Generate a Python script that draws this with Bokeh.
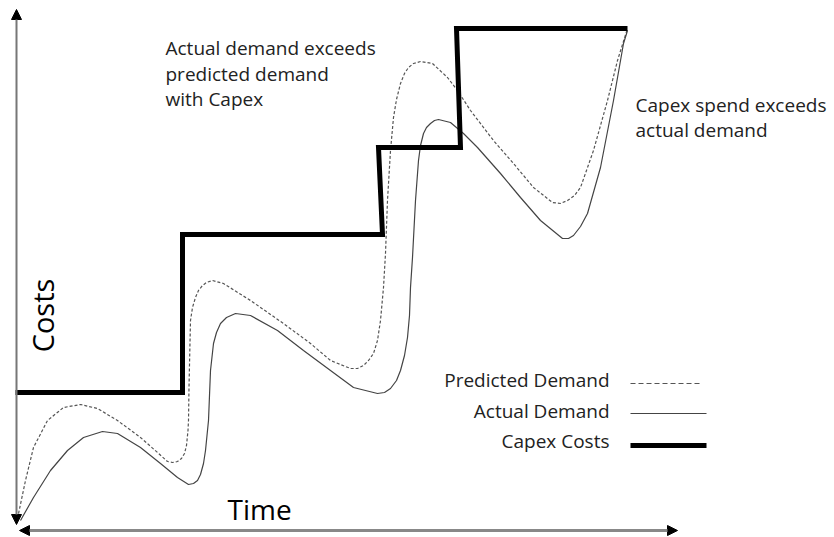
import math
from bokeh.plotting import figure
from bokeh.models import Range1d, Arrow, NormalHead
from bokeh.core.properties import value
from bokeh.embed import file_html
from bokeh.resources import INLINE

# ---- data (time units, cost units) ----
pred_time = [0, 8, 16, 30, 46, 63, 80, 100, 123, 140, 150, 155, 160, 164, 167, 169, 170.5, 171, 171.5, 173,
             175, 178, 181, 185, 189, 195, 206, 233, 266, 293, 313, 333, 340, 346, 351, 356, 360, 363, 366,
             368, 370, 373, 376, 379, 383, 387, 391, 396, 403, 415, 430, 440, 453, 476, 496, 516, 535, 543,
             550, 557, 563, 576, 590, 600, 610]
pred_cost = [2, 40, 73, 100, 113, 116, 112, 100, 83, 68, 59, 58, 59, 62, 67, 75, 90, 100, 133, 200,
             213, 223, 230, 235, 238, 240, 237, 220, 197, 177, 160, 152, 152, 155, 160, 167, 180, 200, 233,
             267, 320, 370, 403, 421, 437, 447, 453, 457, 459, 457, 443, 430, 410, 380, 357, 333, 318, 317,
             320, 325, 333, 370, 420, 460, 492]

act_time = [3, 16, 33, 50, 66, 85, 100, 123, 143, 160, 171, 176, 180, 183, 186, 188, 190, 191, 193, 196,
            199, 203, 209, 218, 233, 260, 286, 313, 336, 360, 367, 373, 379, 383, 387, 390, 392, 393, 395,
            398, 401, 403, 406, 409, 413, 417, 421, 433, 446, 460, 483, 503, 523, 545, 551, 556, 563, 570,
            583, 596, 606, 610]
act_cost = [0, 23, 50, 70, 83, 89, 87, 73, 57, 43, 36, 37, 40, 46, 57, 70, 90, 100, 150, 177,
            188, 197, 203, 207, 205, 190, 170, 150, 133, 127, 128, 132, 140, 150, 165, 183, 205, 233, 263,
            320, 360, 375, 387, 393, 397, 400, 401, 398, 387, 373, 347, 323, 300, 282, 282, 285, 294, 307,
            353, 420, 477, 490]

capex_time = [-2, 165, 165, 365, 361, 443, 439, 610]
capex_cost = [128, 128, 286, 286, 373, 373, 492, 492]

legend_labels = ["Predicted Demand", "Actual Demand", "Capex Costs"]

TXT = "#222222"
FONT = "Open Sans"

p = figure(width=834, height=537, output_backend="svg", toolbar_location=None,
           x_range=Range1d(-17, 817), y_range=Range1d(-17, 520), min_border=0)
p.axis.visible = False
p.grid.visible = False
p.outline_line_color = None
p.background_fill_color = "white"
p.border_fill_color = "white"

# axes arrows
p.add_layout(Arrow(x_start=-1, y_start=-4, x_end=-1, y_end=511,
                   line_color="#777777", line_width=2,
                   start=NormalHead(size=10, fill_color="black", line_color="black"),
                   end=NormalHead(size=10, fill_color="black", line_color="black")))
p.add_layout(Arrow(x_start=2, y_start=-10, x_end=660, y_end=-10,
                   line_color="#888888", line_width=3,
                   start=NormalHead(size=10, fill_color="black", line_color="black"),
                   end=NormalHead(size=10, fill_color="black", line_color="black")))

# curves
p.line(pred_time, pred_cost, line_color="#555555", line_width=1.2, line_dash="3 2")
p.line(act_time, act_cost, line_color="#444444", line_width=1.2)
p.line(capex_time, capex_cost, line_color="black", line_width=5, line_join="miter")

# annotations
p.text(x=[148, 148, 148], y=[473, 447, 422],
       text=["Actual demand exceeds", "predicted demand", "with Capex"],
       text_font=value(FONT), text_font_size="19px", text_color=TXT,
       text_baseline="alphabetic", text_align="left")
p.text(x=[618, 618], y=[416, 391], text=["Capex spend exceeds", "actual demand"],
       text_font=value(FONT), text_font_size="19px", text_color=TXT,
       text_baseline="alphabetic", text_align="left")
p.text(x=[210], y=[12], text=["Time"], text_font=value(FONT), text_font_size="28px",
       text_color="black", text_baseline="alphabetic", text_align="left")
p.text(x=[25], y=[205], text=["Costs"], text_font=value(FONT), text_font_size="29px",
       text_color="black", text_baseline="middle", text_align="center", angle=math.pi / 2)

# legend
p.text(x=[592, 592, 592], y=[141, 110, 80], text=legend_labels,
       text_font=value(FONT), text_font_size="19px", text_color=TXT,
       text_baseline="alphabetic", text_align="right")
p.line([613, 683], [137, 137], line_color="#555555", line_width=1.2, line_dash="5 3")
p.line([613, 689], [107, 107], line_color="#444444", line_width=1.2)
p.line([613, 689], [75, 75], line_color="black", line_width=5)

open("out.html", "w").write(file_html(p, INLINE))
